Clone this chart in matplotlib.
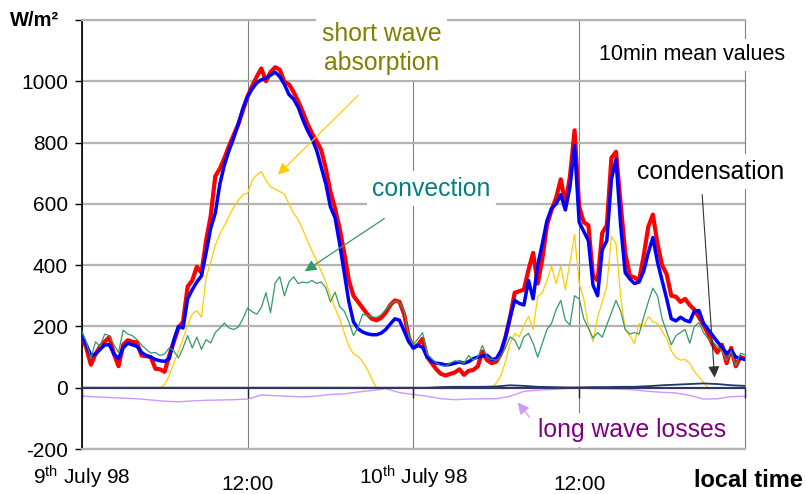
import numpy as np
import matplotlib
matplotlib.use('Agg')
import matplotlib.pyplot as plt

plt.rcParams['font.family'] = ['Liberation Sans', 'DejaVu Sans']
plt.rcParams['mathtext.fontset'] = 'custom'
plt.rcParams['mathtext.rm'] = 'Liberation Sans'
plt.rcParams['mathtext.it'] = 'Liberation Sans:italic'
plt.rcParams['mathtext.bf'] = 'Liberation Sans:bold'

# ---------------- data (hours since 9 July 98 00:00) ----------------
hours_20min = np.arange(145) / 3.0
hours_1h = np.arange(49)

total_measured = [
    172, 130, 75, 110, 135, 150, 165, 110, 70, 140, 155, 150,
    148, 105, 103, 100, 62, 60, 52, 105, 150, 195, 215, 330,
    350, 395, 375, 480, 560, 690, 715, 750, 790, 825, 860, 905,
    950, 985, 1015, 1042, 1000, 1030, 1046, 1038, 998, 990, 965, 935,
    900, 862, 830, 805, 775, 715, 640, 585, 520, 440, 350, 300,
    280, 260, 240, 225, 220, 228, 245, 270, 285, 280, 240, 165,
    130, 140, 160, 100, 80, 60, 45, 40, 45, 50, 60, 42,
    55, 58, 70, 118, 90, 80, 85, 110, 165, 230, 310, 315,
    320, 385, 440, 340, 420, 530, 580, 620, 680, 600, 690, 840,
    590, 540, 530, 365, 350, 505, 530, 750, 770, 600, 440, 365,
    360, 350, 430, 525, 565, 470, 400, 370, 300, 297, 280, 290,
    270, 255, 230, 205, 175, 140, 115, 140, 80, 130, 70, 100,
    95]

total_model = [
    168, 140, 105, 110, 125, 140, 140, 110, 95, 130, 145, 140,
    135, 115, 105, 100, 92, 88, 86, 95, 155, 200, 195, 290,
    320, 345, 365, 440, 520, 570, 665, 728, 775, 815, 860, 912,
    950, 975, 995, 1005, 1010, 1020, 1030, 1015, 990, 957, 942, 915,
    875, 840, 812, 775, 720, 665, 590, 555, 470, 375, 280, 215,
    192, 182, 176, 173, 173, 178, 190, 208, 225, 220, 185, 150,
    130, 138, 132, 100, 86, 80, 78, 74, 76, 80, 84, 80,
    85, 95, 100, 103, 106, 92, 95, 120, 165, 230, 285, 275,
    270, 350, 290, 400, 470, 545, 585, 600, 630, 580, 655, 790,
    540, 510, 480, 335, 300, 450, 480, 680, 745, 530, 375, 355,
    340, 345, 380, 440, 490, 410, 350, 290, 225, 218, 230, 220,
    215, 250, 252, 210, 190, 170, 150, 133, 112, 122, 100, 96,
    92]

short_wave = [
    0, 0, 0, 0, 0, 0, 0, 0, 0, 0, 0, 0,
    0, 0, 0, 0, 0, 0, 10, 40, 80, 120, 160, 205,
    240, 252, 230, 360, 410, 465, 503, 530, 560, 589, 612, 630,
    635, 676, 695, 705, 676, 656, 648, 640, 632, 600, 570, 548,
    515, 480, 445, 415, 380, 345, 300, 260, 225, 180, 135, 110,
    103, 85, 60, 27, 0, 0, 0, 0, 0, 0, 0, 0,
    0, 0, 0, 0, 0, 0, 0, 0, 0, 0, 0, 0,
    0, 0, 0, 0, 0, 0, 15, 40, 85, 144, 177, 166,
    205, 232, 190, 297, 310, 350, 396, 340, 396, 320, 410, 500,
    340, 290, 200, 150, 230, 280, 330, 494, 470, 297, 190, 170,
    144, 210, 200, 232, 215, 210, 185, 160, 120, 98, 90, 92,
    80, 52, 36, 17, 0, 0, 0, 0, 0, 0, 0, 0,
    0]

convection = [
    185, 150, 95, 150, 135, 175, 170, 140, 115, 188, 175, 170,
    157, 140, 125, 113, 115, 105, 110, 130, 120, 97, 130, 170,
    130, 165, 125, 157, 146, 180, 195, 211, 195, 190, 198, 225,
    260, 248, 240, 262, 310, 245, 342, 362, 300, 345, 362, 340,
    345, 342, 350, 340, 345, 326, 280, 312, 265, 250, 215, 170,
    197, 240, 236, 232, 229, 238, 255, 272, 283, 278, 250, 168,
    140, 160, 180, 110, 95, 80, 72, 70, 80, 88, 85, 80,
    105, 90, 100, 138, 100, 92, 90, 100, 130, 166, 155, 125,
    166, 177, 145, 100, 145, 190, 210, 255, 285, 220, 205, 300,
    290, 225, 195, 162, 180, 165, 205, 245, 285, 250, 190, 175,
    180, 175, 230, 280, 325, 300, 225, 182, 140, 170, 180, 190,
    145, 200, 212, 180, 160, 150, 135, 120, 88, 120, 72, 112,
    108]

long_wave = [
    -27, -30, -32, -34, -36, -40, -44, -46, -43, -41, -40, -39,
    -37, -24, -26, -28, -30, -27, -22, -20, -14, -9, -3, -16,
    -22, -28, -36, -39, -37, -36, -36, -28, -12, -8, -6, -3,
    -1, -3, -4, -5, -7, -12, -15, -17, -25, -37, -36, -29,
    -28]

condensation = [
    0, 0, 0, 0, 0, 0, 0, 0, 0, 0, 0, 0,
    0, 0, 0, 0, 0, 0, 0, 0, 0, 0, 0, 0,
    0, 0, 2, 3, 3, 3, 4, 8, 6, 3, 2, 1,
    1, 2, 2, 3, 3, 5, 8, 10, 12, 14, 12, 8,
    6]

y_ticks = [-200, 0, 200, 400, 600, 800, 1000, 1200]
y_labels = ['-200', '0', '200', '400', '600', '800', '1000', '']
date_ticks = [0, 24]
date_labels = ['9$^{\\mathrm{th}}$ July 98', '10$^{\\mathrm{th}}$ July 98']
noon_ticks = [12, 36]
noon_labels = ['12:00', '12:00']

# ---------------- figure ----------------
fig = plt.figure(figsize=(8.06, 4.94), dpi=100)
ax = fig.add_axes([0.10136, 0.09109, 0.82296, 0.86842])

ax.plot(hours_20min, total_measured, color='#FF0000', lw=3.0, zorder=3,
        solid_joinstyle='round')
ax.plot(hours_20min, total_model, color='#0000FF', lw=2.5, zorder=4,
        solid_joinstyle='round')
ax.plot(hours_20min, short_wave, color='#FFCC00', lw=0.9, zorder=5)
ax.plot(hours_20min, convection, color='#339966', lw=0.9, zorder=5)
ax.plot(hours_1h, long_wave, color='#CC99FF', lw=1.0, zorder=5)
ax.plot(hours_1h, condensation, color='#1F3864', lw=1.3, zorder=6)

ax.set_xlim(0, 48)
ax.set_ylim(-200, 1200)

ax.set_yticks(y_ticks)
ax.set_yticklabels(y_labels)
ax.tick_params(axis='y', length=5, width=1, color='black', labelsize=15, pad=5)

ax.set_xticks(date_ticks)
ax.set_xticklabels(date_labels)
ax.set_xticks(noon_ticks, minor=True)
ax.set_xticklabels(noon_labels, minor=True)
ax.tick_params(axis='x', which='major', length=0, pad=11, labelsize=15)
ax.tick_params(axis='x', which='minor', length=0, pad=19, labelsize=15)

ax.grid(axis='x', which='both', color='#808080', lw=0.8)
ax.grid(axis='y', which='major', color='#B3B3B3', lw=1.6)
ax.set_axisbelow(True)

ax.spines['left'].set_color('black')
ax.spines['left'].set_linewidth(1.2)
ax.spines['right'].set_color('#808080')
ax.spines['right'].set_linewidth(0.8)
for s in ('top', 'bottom'):
    ax.spines[s].set_color('#B3B3B3')
    ax.spines[s].set_linewidth(1.6)

# x axis line at zero with tick marks
sec = ax.secondary_xaxis(0, transform=ax.transData)
sec.set_xticks([0, 12, 24, 36, 48])
sec.tick_params(axis='x', direction='out', length=7, width=1, color='#222222',
                labelbottom=False, labeltop=False)
sec.spines['bottom'].set_color('#333366')
sec.spines['bottom'].set_linewidth(1.5)
sec.set_zorder(7)

box = dict(facecolor='white', edgecolor='none', pad=4)

ax.text(21.7, 1107, 'short wave\nabsorption', color='#808000', fontsize=17.8,
        ha='center', va='center', linespacing=1.25, bbox=box, zorder=8,
        clip_on=False)
ax.annotate('', xy=(14.2, 695), xytext=(20.0, 954),
            arrowprops=dict(arrowstyle='-|>', color='#FFCC00', lw=0.9,
                            mutation_scale=17, shrinkA=0, shrinkB=0), zorder=8)

ax.text(25.3, 650, 'convection', color='#008080', fontsize=17.8,
        ha='center', va='center', bbox=box, zorder=8, clip_on=False)
ax.annotate('', xy=(16.15, 380), xytext=(21.9, 552),
            arrowprops=dict(arrowstyle='-|>', color='#339966', lw=0.9,
                            mutation_scale=17, shrinkA=0, shrinkB=0), zorder=8)

ax.text(45.5, 705, 'condensation', color='black', fontsize=17.8,
        ha='center', va='center', bbox=box, zorder=8, clip_on=False)
ax.annotate('', xy=(45.8, 33), xytext=(44.9, 630),
            arrowprops=dict(arrowstyle='-|>', color='#333333', lw=0.8,
                            mutation_scale=17, shrinkA=0, shrinkB=0), zorder=8)

ax.text(44.2, 1087, '10min mean values', color='black', fontsize=15.5,
        ha='center', va='center', bbox=box, zorder=8, clip_on=False)

ax.text(39.8, -138, 'long wave losses', color='#800080', fontsize=17.8,
        ha='center', va='center', bbox=box, zorder=8, clip_on=False)
ax.annotate('', xy=(31.55, -48), xytext=(32.4, -96),
            arrowprops=dict(arrowstyle='-|>', color='#CC99FF', lw=0.9,
                            mutation_scale=17, shrinkA=0, shrinkB=0), zorder=8)

fig.text(10 / 806, 1 - 21 / 494, 'W/m²', fontsize=14.5, fontweight='bold',
         ha='left', va='center')
fig.text(803 / 806, 1 - 480 / 494, 'local time', fontsize=17, fontweight='bold',
         ha='right', va='center')

fig.savefig('out.png', dpi=100)
